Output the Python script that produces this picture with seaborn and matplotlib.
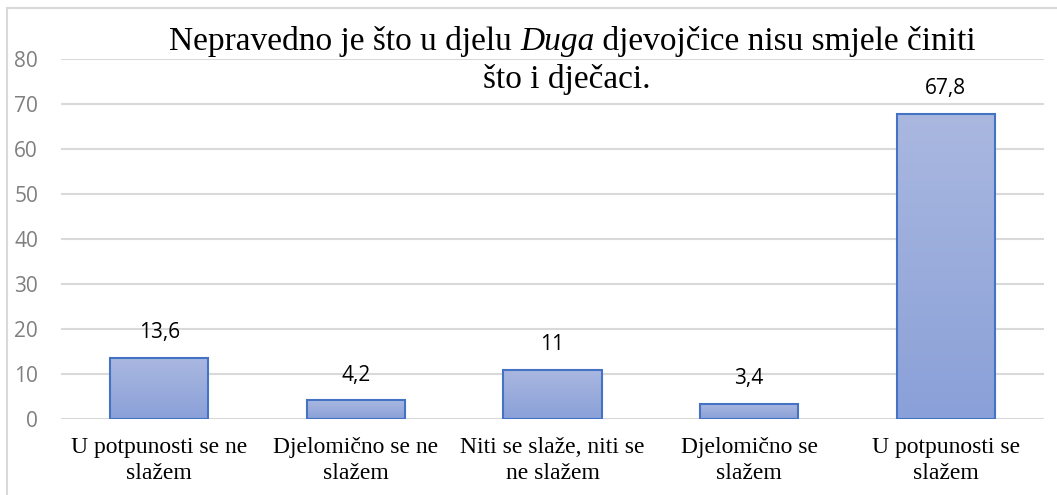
import numpy as np
import pandas as pd
import matplotlib
matplotlib.use("Agg")
import matplotlib.pyplot as plt
import seaborn as sns
from matplotlib.patches import Rectangle
from matplotlib.colors import LinearSegmentedColormap

categories = ["U potpunosti se ne\nslažem", "Djelomično se ne\nslažem",
              "Niti se slaže, niti se\nne slažem", "Djelomično se\nslažem",
              "U potpunosti se\nslažem"]
values = [13.6, 4.2, 11.0, 3.4, 67.8]
value_labels = ["13,6", "4,2", "11", "3,4", "67,8"]
yticks = [0, 10, 20, 30, 40, 50, 60, 70, 80]
title_parts = [("Nepravedno je što u djelu ", "normal"), ("Duga", "italic"),
               (" djevojčice nisu smjele činiti", "normal")]
title_line2 = "što i dječaci."

sns.set_theme(style="white")

W, H = 1057, 495
fig = plt.figure(figsize=(W / 100, H / 100), dpi=100)
ax = fig.add_axes([61 / W, 1 - 419 / H, (1044 - 61) / W, (419 - 59) / H])

df = pd.DataFrame({"cat": categories, "val": values})
sns.barplot(data=df, x="cat", y="val", ax=ax, width=0.5, color="#9AACDC",
            edgecolor="#4472C4", linewidth=1.5, saturation=1, zorder=3)

# gradient fill
cmap = LinearSegmentedColormap.from_list("g", ["#8AA0D8", "#AAB8E0"])
grad = np.linspace(0, 1, 256).reshape(-1, 1)
for p in ax.patches:
    x0, y0 = p.get_x(), p.get_y()
    w, h = p.get_width(), p.get_height()
    im = ax.imshow(grad, extent=[x0, x0 + w, y0, y0 + h], origin="lower",
                   cmap=cmap, aspect="auto", zorder=3.5)
    im.set_clip_path(p)
    p.set_facecolor("none")
    p.set_zorder(4)

ax.set_xlim(-0.5, 4.5)
ax.set_ylim(0, 80)
ax.set_yticks(yticks)
ax.set_yticklabels([str(t) for t in yticks], fontsize=15, color="#7F7F7F",
                   family="Open Sans")
ax.tick_params(axis="y", length=0, pad=16.5)
ax.tick_params(axis="x", length=0, pad=13)
ax.set_xticks(range(len(categories)))
ax.set_xticklabels(categories, fontsize=17, family="Liberation Serif",
                   color="black", linespacing=1.3)
ax.set_xlabel("")
ax.set_ylabel("")
ax.grid(axis="y", color="#D9D9D9", linewidth=1.5, zorder=0)
ax.set_axisbelow(True)
for s in ax.spines.values():
    s.set_visible(False)

for i, (v, lab) in enumerate(zip(values, value_labels)):
    ax.annotate(lab, (i, v), xytext=(0, 18), textcoords="offset points",
                ha="center", va="center", fontsize=15, family="Open Sans",
                color="black")

# Title: line 1 with italic word, composed of pieces
renderer = fig.canvas.get_renderer()
texts = []
for s, style in title_parts:
    t = fig.text(0, 1 - 50 / H, s, ha="left", va="baseline", fontsize=24,
                 family="Liberation Serif", style=style, color="black")
    texts.append(t)
widths = [t.get_window_extent(renderer).width for t in texts]
total = sum(widths)
x = 572.5 - total / 2
for t, w in zip(texts, widths):
    t.set_x(x / W)
    x += w
fig.text(567 / W, 1 - 88 / H, title_line2, ha="center", va="baseline",
         fontsize=24, family="Liberation Serif", color="black")

border = Rectangle((6.5 / W, -0.1), 1.2, 1 - 7.5 / H + 0.1, transform=fig.transFigure,
                   fill=False, edgecolor="#D9D9D9", linewidth=1.5)
fig.add_artist(border)

fig.savefig("out.png", dpi=100)
